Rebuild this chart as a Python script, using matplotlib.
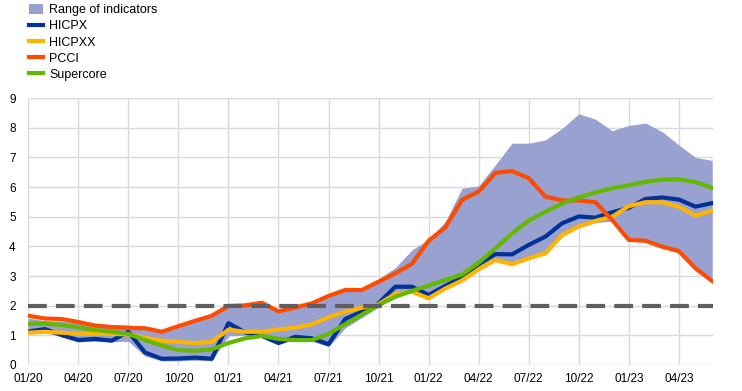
import matplotlib
matplotlib.use("Agg")
import matplotlib.pyplot as plt
from matplotlib.patches import Patch
from matplotlib.lines import Line2D

plt.rcParams['font.family'] = ['Liberation Sans', 'DejaVu Sans']

# monthly data, 01/20 .. 06/23
months = list(range(42))
tick_pos = list(range(0, 42, 3))
tick_labels = ['01/20', '04/20', '07/20', '10/20', '01/21', '04/21', '07/21',
               '10/21', '01/22', '04/22', '07/22', '10/22', '01/23', '04/23']

range_low = [1.05, 1.10, 0.95, 0.78, 0.80, 0.78, 0.80, 0.30, 0.14, 0.14, 0.16, 0.14,
             0.98, 1.00, 0.93, 0.70, 0.86, 0.80, 0.62, 1.25, 1.60, 1.95, 2.35, 2.45,
             2.22, 2.55, 2.82, 3.18, 3.50, 3.36, 3.56, 3.73, 4.33, 4.63, 4.80, 4.85,
             4.18, 4.15, 3.95, 3.80, 3.22, 2.80]
range_high = [1.58, 1.50, 1.48, 1.42, 1.40, 1.36, 1.35, 1.28, 1.12, 1.31, 1.49, 1.66,
              1.95, 2.01, 2.10, 1.81, 1.94, 2.08, 2.33, 2.53, 2.60, 2.90, 3.28, 3.88,
              4.24, 4.83, 5.96, 6.04, 6.75, 7.48, 7.48, 7.59, 7.98, 8.47, 8.29, 7.90,
              8.08, 8.16, 7.87, 7.42, 7.00, 6.90]
hicpx = [1.13, 1.21, 1.01, 0.84, 0.88, 0.82, 1.12, 0.42, 0.21, 0.22, 0.25, 0.21,
         1.41, 1.10, 0.98, 0.74, 0.95, 0.90, 0.70, 1.55, 1.80, 2.08, 2.64, 2.64,
         2.36, 2.67, 2.95, 3.40, 3.74, 3.73, 4.05, 4.33, 4.78, 5.01, 4.97, 5.15,
         5.30, 5.60, 5.65, 5.58, 5.34, 5.46]
hicpxx = [1.09, 1.12, 1.09, 1.05, 1.06, 1.05, 1.03, 0.92, 0.82, 0.78, 0.74, 0.78,
          1.19, 1.12, 1.12, 1.20, 1.26, 1.37, 1.61, 1.80, 1.93, 2.05, 2.40, 2.47,
          2.25, 2.58, 2.85, 3.23, 3.54, 3.40, 3.60, 3.77, 4.38, 4.68, 4.86, 5.00,
          5.36, 5.49, 5.49, 5.34, 5.04, 5.21]
pcci = [1.66, 1.57, 1.55, 1.45, 1.33, 1.28, 1.25, 1.24, 1.12, 1.31, 1.49, 1.66,
        1.99, 2.01, 2.10, 1.81, 1.94, 2.08, 2.33, 2.53, 2.53, 2.81, 3.09, 3.41,
        4.19, 4.64, 5.57, 5.85, 6.48, 6.54, 6.30, 5.68, 5.55, 5.55, 5.49, 4.89,
        4.22, 4.19, 3.99, 3.84, 3.26, 2.83]
supercore = [1.39, 1.40, 1.35, 1.27, 1.18, 1.12, 1.05, 0.84, 0.66, 0.50, 0.48, 0.53,
             0.74, 0.90, 0.98, 0.88, 0.84, 0.84, 1.05, 1.38, 1.70, 2.02, 2.30, 2.50,
             2.68, 2.87, 3.05, 3.45, 3.93, 4.44, 4.87, 5.17, 5.45, 5.65, 5.82, 5.96,
             6.06, 6.18, 6.25, 6.26, 6.17, 5.97]
target = 2.0

band_color = '#98a1d0'
colors = {'HICPX': '#003299', 'HICPXX': '#ffb400', 'PCCI': '#ff4b00', 'Supercore': '#65b800'}

fig = plt.figure(figsize=(7.42, 3.91), dpi=100)
ax = fig.add_axes([0.0381, 0.0665, 0.9229, 0.6825])

ax.fill_between(months, range_low, range_high, color=band_color, linewidth=0, zorder=2)
ax.plot(months, hicpx, color=colors['HICPX'], lw=3, zorder=3)
ax.plot(months, hicpxx, color=colors['HICPXX'], lw=3, zorder=3)
ax.plot(months, pcci, color=colors['PCCI'], lw=3, zorder=3)
ax.plot(months, supercore, color=colors['Supercore'], lw=3, zorder=3)
ax.axhline(target, color='#5f5f5f', lw=3, dashes=(4.5, 2.2), zorder=4)

ax.set_xlim(0, 41.05)
ax.set_ylim(0, 9)
ax.set_xticks(tick_pos)
ax.set_xticklabels(tick_labels)
ax.set_yticks(range(10))
ax.tick_params(length=0, labelsize=8.5, colors='#000000')
ax.tick_params(axis='y', pad=9)
ax.tick_params(axis='x', pad=6)
ax.grid(True, color='#d9d9d9', lw=1, zorder=0)
ax.set_axisbelow(True)
for s in ax.spines.values():
    s.set_visible(False)

handles = [
    Patch(facecolor=band_color, edgecolor='none'),
    Line2D([], [], color=colors['HICPX'], lw=3),
    Line2D([], [], color=colors['HICPXX'], lw=3),
    Line2D([], [], color=colors['PCCI'], lw=3),
    Line2D([], [], color=colors['Supercore'], lw=3),
]
labels = ['Range of indicators', 'HICPX', 'HICPXX', 'PCCI', 'Supercore']
fig.legend(handles, labels, loc='upper left', bbox_to_anchor=(0.032, 1.002),
           frameon=False, fontsize=9, handlelength=1.15, handleheight=0.8,
           handletextpad=0.5, labelspacing=0.32, borderaxespad=0)

fig.savefig('out.png', dpi=100)
